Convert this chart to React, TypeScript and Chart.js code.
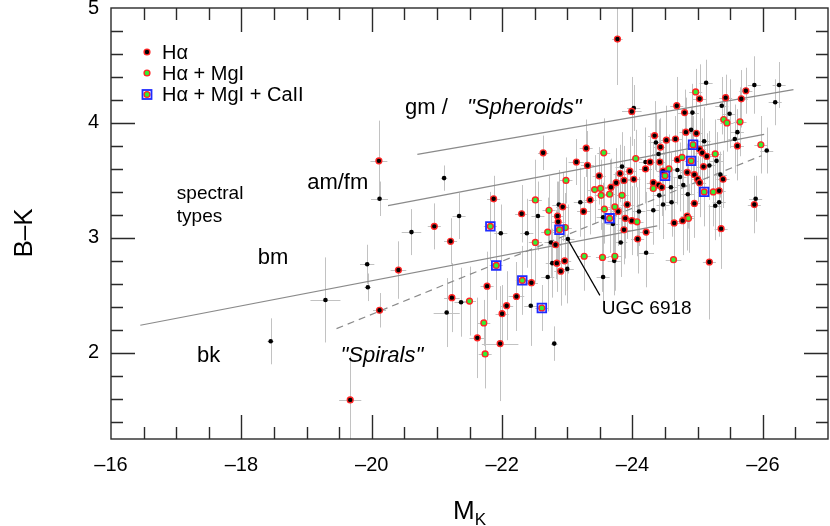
import React, { useEffect, useRef } from "react";
import { Chart, registerables } from "chart.js";

Chart.register(...registerables);

const FONT = "'Liberation Sans', Arial, Helvetica, sans-serif";

// ---- axes ----
const xRange = [-27, -16];
const yRange = [1.25, 5];
const xMajorTicks = [-16, -18, -20, -22, -24, -26];
const yMajorTicks = [2, 3, 4, 5];
const xMinorStep = 0.5;
const yMinorStep = 0.2;

// ---- data: [M_K, B-K, xErr, yErr] ----
const haPoints = [
  [-20.11, 3.67, 0.13, 0.35], [-20.12, 2.37, 0.1, 0.15], [-19.67, 1.59, 0.17, 0.38],
  [-22.63, 3.74, 0.08, 0.15], [-23.29, 3.78, 0.1, 0.25], [-23.14, 3.66, 0.12, 0.2],
  [-23.31, 3.63, 0.1, 0.3], [-23.49, 3.54, 0.1, 0.25], [-21.87, 3.34, 0.1, 0.2],
  [-23.77, 4.73, 0.08, 0.4], [-23.99, 4.1, 0.15, 0.3], [-24.68, 4.15, 0.1, 0.25],
  [-24.8, 4.09, 0.1, 0.2], [-25.03, 4.21, 0.1, 0.3], [-25.43, 4.22, 0.1, 0.2],
  [-25.74, 4.28, 0.1, 0.2], [-25.67, 4.21, 0.1, 0.25], [-25.61, 3.8, 0.1, 0.3],
  [-24.82, 3.92, 0.1, 0.3], [-24.98, 3.91, 0.1, 0.35], [-24.34, 3.89, 0.1, 0.3],
  [-24.43, 3.79, 0.1, 0.25], [-24.52, 3.85, 0.1, 0.3], [-24.66, 3.86, 0.1, 0.2],
  [-25.03, 3.77, 0.1, 0.25], [-25.07, 3.74, 0.1, 0.3], [-25.14, 3.71, 0.1, 0.2],
  [-25.09, 3.62, 0.1, 0.25], [-24.69, 3.68, 0.1, 0.3], [-24.42, 3.66, 0.1, 0.3],
  [-24.27, 3.66, 0.1, 0.25], [-24.2, 3.6, 0.1, 0.3], [-24.47, 3.58, 0.1, 0.2],
  [-23.96, 3.58, 0.1, 0.3], [-23.81, 3.56, 0.1, 0.25], [-23.87, 3.5, 0.1, 0.3],
  [-24.02, 3.51, 0.1, 0.35], [-23.75, 3.48, 0.1, 0.3], [-23.67, 3.44, 0.1, 0.25],
  [-24.84, 3.57, 0.1, 0.25], [-24.95, 3.55, 0.1, 0.3], [-25.0, 3.51, 0.1, 0.2],
  [-25.03, 3.48, 0.1, 0.3], [-25.39, 3.51, 0.1, 0.25], [-24.32, 3.48, 0.1, 0.35],
  [-24.4, 3.46, 0.1, 0.3], [-24.45, 3.44, 0.1, 0.25], [-25.33, 3.41, 0.1, 0.3],
  [-20.96, 3.1, 0.1, 0.2], [-21.21, 2.97, 0.1, 0.2], [-22.3, 3.21, 0.1, 0.25],
  [-22.93, 3.27, 0.1, 0.3], [-22.85, 3.19, 0.1, 0.3], [-22.86, 3.14, 0.1, 0.35],
  [-22.82, 2.94, 0.1, 0.3], [-22.45, 2.61, 0.1, 0.3], [-22.84, 2.78, 0.1, 0.25],
  [-22.96, 2.8, 0.1, 0.3], [-22.9, 2.71, 0.1, 0.3], [-20.41, 2.72, 0.12, 0.25],
  [-21.77, 2.58, 0.1, 0.3], [-22.22, 2.49, 0.12, 0.3], [-21.23, 2.48, 0.12, 0.3],
  [-22.07, 2.41, 0.1, 0.3], [-22.0, 2.34, 0.1, 0.25], [-23.35, 3.33, 0.1, 0.3],
  [-23.25, 3.23, 0.1, 0.3], [-23.92, 3.29, 0.1, 0.3], [-23.78, 3.23, 0.1, 0.3],
  [-23.89, 3.17, 0.1, 0.35], [-23.99, 3.15, 0.1, 0.3], [-24.95, 3.3, 0.1, 0.3],
  [-24.64, 3.13, 0.1, 0.4], [-24.77, 3.15, 0.1, 0.3], [-24.84, 3.19, 0.1, 0.3],
  [-25.36, 3.08, 0.1, 0.35], [-25.87, 3.29, 0.1, 0.25], [-23.87, 3.07, 0.1, 0.3],
  [-24.21, 3.05, 0.1, 0.35], [-24.08, 2.99, 0.1, 0.3], [-25.18, 2.79, 0.1, 0.5],
  [-21.62, 2.13, 0.12, 0.35], [-21.97, 2.08, 0.28, 0.5],
];

const haMgPoints = [
  [-23.56, 3.74, 0.1, 0.3], [-22.98, 3.5, 0.1, 0.2], [-23.42, 3.42, 0.1, 0.3],
  [-23.51, 3.43, 0.1, 0.25], [-23.52, 3.37, 0.1, 0.3], [-22.51, 3.33, 0.1, 0.35],
  [-24.97, 4.27, 0.1, 0.2], [-25.4, 4.03, 0.1, 0.2], [-25.45, 4.0, 0.1, 0.25],
  [-25.65, 4.01, 0.1, 0.3], [-25.97, 3.81, 0.1, 0.25], [-25.27, 3.73, 0.1, 0.3],
  [-24.76, 3.7, 0.1, 0.25], [-23.65, 3.38, 0.1, 0.3], [-23.84, 3.37, 0.1, 0.3],
  [-24.05, 3.69, 0.1, 0.25], [-24.56, 3.6, 0.1, 0.3], [-24.32, 3.43, 0.1, 0.3],
  [-25.24, 3.4, 0.1, 0.3], [-22.72, 3.24, 0.1, 0.3], [-22.97, 3.09, 0.1, 0.3],
  [-22.7, 3.05, 0.1, 0.3], [-22.51, 2.96, 0.1, 0.35], [-21.5, 2.45, 0.1, 0.3],
  [-23.26, 2.84, 0.1, 0.3], [-23.54, 2.83, 0.1, 0.3], [-23.57, 3.25, 0.1, 0.3],
  [-23.73, 3.27, 0.1, 0.3], [-24.07, 3.14, 0.1, 0.3], [-24.86, 3.17, 0.1, 0.3],
  [-23.73, 2.84, 0.1, 0.3], [-24.63, 2.81, 0.12, 0.4], [-21.72, 2.26, 0.1, 0.2],
  [-21.74, 1.99, 0.1, 0.3],
];

const haMgCaPoints = [
  [-24.93, 3.81, 0.1, 0.25], [-24.9, 3.67, 0.1, 0.3], [-24.5, 3.54, 0.1, 0.3],
  [-25.1, 3.4, 0.1, 0.3], [-21.82, 3.1, 0.1, 0.3], [-22.88, 3.07, 0.1, 0.3],
  [-21.91, 2.76, 0.1, 0.3], [-22.31, 2.63, 0.1, 0.3], [-22.61, 2.39, 0.1, 0.2],
  [-23.65, 3.17, 0.1, 0.3],
];

const otherPoints = [
  [-20.12, 3.34, 0.13, 0.15], [-19.93, 2.77, 0.11, 0.17], [-19.94, 2.57, 0.05, 0.12],
  [-19.29, 2.46, 0.23, 0.37], [-18.45, 2.1, 0.05, 0.2], [-21.11, 3.52, 0.05, 0.11],
  [-24.02, 4.13, 0.1, 0.2], [-24.92, 4.09, 0.1, 0.25], [-25.13, 4.35, 0.1, 0.2],
  [-25.87, 4.33, 0.1, 0.25], [-26.25, 4.33, 0.1, 0.2], [-26.19, 4.18, 0.1, 0.2],
  [-25.37, 4.15, 0.1, 0.25], [-25.49, 4.08, 0.1, 0.3], [-25.61, 3.92, 0.1, 0.2],
  [-25.57, 3.86, 0.1, 0.3], [-26.06, 3.76, 0.1, 0.2], [-24.9, 3.94, 0.1, 0.2],
  [-24.36, 3.83, 0.1, 0.25], [-25.1, 3.84, 0.1, 0.3], [-25.29, 3.67, 0.1, 0.25],
  [-25.18, 3.63, 0.1, 0.3], [-24.4, 3.73, 0.1, 0.3], [-24.2, 3.66, 0.1, 0.3],
  [-24.69, 3.59, 0.1, 0.3], [-23.84, 3.62, 0.1, 0.3], [-24.73, 3.53, 0.1, 0.3],
  [-25.35, 3.55, 0.1, 0.2], [-24.59, 3.44, 0.1, 0.3], [-24.78, 3.46, 0.1, 0.3],
  [-24.41, 3.37, 0.1, 0.3], [-24.85, 3.38, 0.1, 0.3], [-25.89, 3.34, 0.1, 0.2],
  [-21.34, 3.19, 0.1, 0.2], [-20.61, 3.05, 0.15, 0.2], [-21.98, 3.04, 0.1, 0.25],
  [-22.55, 3.19, 0.1, 0.3], [-22.87, 3.29, 0.1, 0.3], [-23.01, 2.99, 0.1, 0.3],
  [-22.38, 3.04, 0.1, 0.3], [-22.75, 2.96, 0.1, 0.3], [-22.7, 2.66, 0.1, 0.3],
  [-22.77, 2.78, 0.1, 0.3], [-23.0, 2.73, 0.1, 0.3], [-21.37, 2.44, 0.1, 0.3],
  [-22.44, 2.41, 0.1, 0.35], [-21.15, 2.35, 0.2, 0.3], [-23.2, 3.31, 0.1, 0.3],
  [-23.55, 3.18, 0.1, 0.3], [-23.7, 3.12, 0.1, 0.3], [-24.1, 3.23, 0.1, 0.3],
  [-24.32, 3.24, 0.1, 0.3], [-24.47, 3.29, 0.1, 0.3], [-24.6, 3.31, 0.1, 0.3],
  [-25.27, 3.28, 0.1, 0.3], [-25.33, 3.31, 0.1, 0.3], [-23.82, 2.96, 0.1, 0.3],
  [-24.21, 2.87, 0.12, 0.3], [-23.72, 2.8, 0.1, 0.3], [-23.55, 2.66, 0.1, 0.3],
  [-22.8, 2.08, 0.05, 0.15],
];

// ---- reference lines (endpoints) ----
const gmLine = [[-20.7, 3.727], [-26.47, 4.29]];
const amfmLine = [[-20.25, 3.28], [-26.02, 3.9]];
const bmLine = [[-16.45, 2.24], [-24.38, 3.105]];
const spiralLine = [[-19.46, 2.21], [-25.98, 3.715]];

// ---- annotation texts (data coordinates, alphabetic baseline) ----
const annotations = [
  { text: "gm /", x: -20.51, y: 4.075, italic: false, size: 22 },
  { text: "\"Spheroids\"", x: -21.46, y: 4.075, italic: true, size: 22 },
  { text: "am/fm", x: -19.01, y: 3.422, italic: false, size: 22 },
  { text: "spectral", x: -17.01, y: 3.335, italic: false, size: 19 },
  { text: "types", x: -17.01, y: 3.14, italic: false, size: 19 },
  { text: "bm", x: -18.25, y: 2.772, italic: false, size: 22 },
  { text: "bk", x: -17.32, y: 1.922, italic: false, size: 22 },
  { text: "\"Spirals\"", x: -19.52, y: 1.922, italic: true, size: 22 },
  { text: "UGC 6918", x: -23.53, y: 2.337, italic: false, size: 19 },
];
const ugcArrow = [[-23.01, 2.985], [-23.5, 2.5]];

const legendItems = ["H\u03b1", "H\u03b1 + MgI", "H\u03b1 + MgI + CaII"];

const RED = "#ff2424";
const GREEN = "#33f033";
const BLUE = "#1f2bff";
const AXIS = "#2a2a2a";
const MR = 2.9;
const MB = 1.4;

const toPts = (arr: number[][]) => arr.map(([x, y, xe, ye]) => ({ x, y, xe, ye }));
const toLine = (arr: number[][]) => arr.map(([x, y]) => ({ x, y }));

function drawCircleMarker(ctx: CanvasRenderingContext2D, x: number, y: number, fill: string) {
  ctx.beginPath();
  ctx.arc(x, y, MR, 0, Math.PI * 2);
  ctx.fillStyle = fill;
  ctx.fill();
  ctx.lineWidth = MB;
  ctx.strokeStyle = RED;
  ctx.stroke();
}

const errorBarPlugin = {
  id: "errorBars",
  beforeDatasetsDraw(chart: any) {
    const { ctx, chartArea: a, scales } = chart;
    const xs = scales.x;
    const ys = scales.y;
    ctx.save();
    ctx.beginPath();
    ctx.rect(a.left, a.top, a.right - a.left, a.bottom - a.top);
    ctx.clip();
    ctx.strokeStyle = "#c2c2c2";
    ctx.lineWidth = 1;
    chart.data.datasets.forEach((ds: any) => {
      if (!ds.withErrors) return;
      ds.data.forEach((p: any) => {
        const cx = Math.round(xs.getPixelForValue(p.x)) + 0.5;
        const cy = Math.round(ys.getPixelForValue(p.y)) + 0.5;
        ctx.beginPath();
        if (p.ye) {
          ctx.moveTo(cx, ys.getPixelForValue(p.y + p.ye));
          ctx.lineTo(cx, ys.getPixelForValue(p.y - p.ye));
        }
        if (p.xe) {
          ctx.moveTo(xs.getPixelForValue(p.x - p.xe), cy);
          ctx.lineTo(xs.getPixelForValue(p.x + p.xe), cy);
        }
        ctx.stroke();
      });
    });
    ctx.restore();
  },
};

const framePlugin = {
  id: "frame",
  afterDatasetsDraw(chart: any) {
    const { ctx, chartArea: a, scales } = chart;
    const xs = scales.x;
    const ys = scales.y;
    ctx.save();
    ctx.strokeStyle = AXIS;
    ctx.lineWidth = 1.4;
    ctx.strokeRect(a.left, a.top, a.right - a.left, a.bottom - a.top);
    ctx.beginPath();
    const eps = 1e-6;
    for (let v = xRange[1] - xMinorStep; v > xRange[0] + eps; v -= xMinorStep) {
      const px = Math.round(xs.getPixelForValue(v)) + 0.5;
      const major = xMajorTicks.some((t) => Math.abs(t - v) < eps);
      const len = major ? 24 : 12;
      ctx.moveTo(px, a.bottom);
      ctx.lineTo(px, a.bottom - len);
      ctx.moveTo(px, a.top);
      ctx.lineTo(px, a.top + len);
    }
    const yStart = Math.ceil((yRange[0] + eps) / yMinorStep) * yMinorStep;
    for (let v = yStart; v < yRange[1] - eps; v += yMinorStep) {
      const py = Math.round(ys.getPixelForValue(v)) + 0.5;
      const major = yMajorTicks.some((t) => Math.abs(t - v) < eps);
      const len = major ? 24 : 12;
      ctx.moveTo(a.left, py);
      ctx.lineTo(a.left + len, py);
      ctx.moveTo(a.right, py);
      ctx.lineTo(a.right - len, py);
    }
    ctx.stroke();
    ctx.restore();
  },
};

const annotationPlugin = {
  id: "annotations",
  afterDraw(chart: any) {
    const { ctx, chartArea: a, scales } = chart;
    const xs = scales.x;
    const ys = scales.y;
    ctx.save();
    ctx.fillStyle = "#000";
    ctx.textBaseline = "alphabetic";
    ctx.textAlign = "left";
    annotations.forEach((t) => {
      ctx.font = `${t.italic ? "italic " : ""}${t.size}px ${FONT}`;
      ctx.fillText(t.text, xs.getPixelForValue(t.x), ys.getPixelForValue(t.y));
    });
    // UGC 6918 pointer
    ctx.strokeStyle = "#000";
    ctx.lineWidth = 1.2;
    ctx.beginPath();
    ctx.moveTo(xs.getPixelForValue(ugcArrow[0][0]), ys.getPixelForValue(ugcArrow[0][1]));
    ctx.lineTo(xs.getPixelForValue(ugcArrow[1][0]), ys.getPixelForValue(ugcArrow[1][1]));
    ctx.stroke();

    // legend
    const lx = a.left + 36;
    const rows = [a.top + 44, a.top + 65, a.top + 86.5];
    ctx.font = `20px ${FONT}`;
    ctx.textBaseline = "middle";
    legendItems.forEach((label, i) => {
      const my = rows[i];
      if (i === 0) drawCircleMarker(ctx, lx, my, "#000");
      else drawCircleMarker(ctx, lx, my, GREEN);
      if (i === 2) {
        ctx.lineWidth = 1.8;
        ctx.strokeStyle = BLUE;
        ctx.strokeRect(lx - 4.5, my - 4.5, 9, 9);
      }
      ctx.fillStyle = "#000";
      ctx.fillText(label, lx + 15, my + 1);
    });

    // axis titles
    ctx.textAlign = "center";
    ctx.textBaseline = "middle";
    ctx.font = `26px ${FONT}`;
    ctx.save();
    ctx.translate(25, 233);
    ctx.rotate(-Math.PI / 2);
    ctx.fillText("B\u2013K", 0, 0);
    ctx.restore();

    ctx.textBaseline = "alphabetic";
    ctx.textAlign = "left";
    ctx.font = `26px ${FONT}`;
    const wM = ctx.measureText("M").width;
    ctx.font = `17px ${FONT}`;
    const wK = ctx.measureText("K").width;
    const cx = (a.left + a.right) / 2;
    const sx = cx - (wM + wK) / 2;
    ctx.font = `26px ${FONT}`;
    ctx.fillText("M", sx, 519);
    ctx.font = `17px ${FONT}`;
    ctx.fillText("K", sx + wM, 525);
    ctx.restore();
  },
};

const zeroPad = (s: any) => {
  s.paddingLeft = 0;
  s.paddingRight = 0;
  s.paddingTop = 0;
  s.paddingBottom = 0;
};

export default function App() {
  const ref = useRef<HTMLCanvasElement | null>(null);

  useEffect(() => {
    if (!ref.current) return;
    const lineDs = (pts: number[][], dash: number[]) => ({
      type: "scatter",
      data: toLine(pts),
      showLine: true,
      borderColor: "#8a8a8a",
      borderWidth: 1.2,
      borderDash: dash,
      pointRadius: 0,
      pointHoverRadius: 0,
      order: 10,
    });
    const chart = new Chart(ref.current, {
      type: "scatter",
      data: {
        datasets: [
          {
            label: "other",
            data: toPts(otherPoints),
            withErrors: true,
            pointRadius: 2.3,
            pointBackgroundColor: "#000",
            pointBorderWidth: 0,
            order: 4,
          } as any,
          {
            label: "H\u03b1",
            data: toPts(haPoints),
            withErrors: true,
            pointRadius: MR,
            pointBackgroundColor: "#000",
            pointBorderColor: RED,
            pointBorderWidth: MB,
            order: 3,
          } as any,
          {
            label: "H\u03b1 + MgI",
            data: toPts(haMgPoints),
            withErrors: true,
            pointRadius: MR,
            pointBackgroundColor: GREEN,
            pointBorderColor: RED,
            pointBorderWidth: MB,
            order: 2,
          } as any,
          {
            label: "H\u03b1 + MgI + CaII",
            data: toPts(haMgCaPoints),
            withErrors: true,
            pointRadius: MR,
            pointBackgroundColor: GREEN,
            pointBorderColor: RED,
            pointBorderWidth: MB,
            order: 1,
          } as any,
          {
            label: "H\u03b1 + MgI + CaII box",
            data: toPts(haMgCaPoints),
            pointStyle: "rect",
            pointRadius: 6.1,
            pointBackgroundColor: "rgba(0,0,0,0)",
            pointBorderColor: BLUE,
            pointBorderWidth: 1.8,
            order: 0,
          } as any,
          lineDs(gmLine, []) as any,
          lineDs(amfmLine, []) as any,
          lineDs(bmLine, []) as any,
          lineDs(spiralLine, [7, 5]) as any,
        ],
      },
      options: {
        responsive: false,
        animation: false,
        devicePixelRatio: 1,
        events: [],
        layout: { autoPadding: false, padding: { top: 8, right: 2, left: 0, bottom: 0 } },
        plugins: { legend: { display: false }, tooltip: { enabled: false } },
        scales: {
          x: {
            type: "linear",
            min: xRange[0],
            max: xRange[1],
            reverse: true,
            grid: { display: false, drawTicks: false },
            border: { display: false },
            afterBuildTicks: (s: any) => {
              s.ticks = xMajorTicks.map((value) => ({ value }));
            },
            afterFit: (s: any) => {
              s.height = 87;
              zeroPad(s);
            },
            ticks: {
              autoSkip: false,
              maxRotation: 0,
              padding: 14,
              color: "#000",
              font: { family: FONT, size: 20 },
              callback: (v: any) => (v < 0 ? "\u2013" + Math.abs(v) : String(v)),
            },
          },
          y: {
            type: "linear",
            min: yRange[0],
            max: yRange[1],
            grid: { display: false, drawTicks: false },
            border: { display: false },
            afterBuildTicks: (s: any) => {
              s.ticks = yMajorTicks.map((value) => ({ value }));
            },
            afterFit: (s: any) => {
              s.width = 111;
              zeroPad(s);
            },
            ticks: {
              autoSkip: false,
              padding: 12,
              color: "#000",
              font: { family: FONT, size: 20 },
              callback: (v: any) => String(v),
            },
          },
        },
      },
      plugins: [errorBarPlugin, framePlugin, annotationPlugin],
    } as any);
    return () => chart.destroy();
  }, []);

  return (
    <div style={{ position: "fixed", left: 0, top: 0, width: 830, height: 526, background: "#fff" }}>
      <canvas ref={ref} width={830} height={526} style={{ width: 830, height: 526, display: "block" }} />
    </div>
  );
}
